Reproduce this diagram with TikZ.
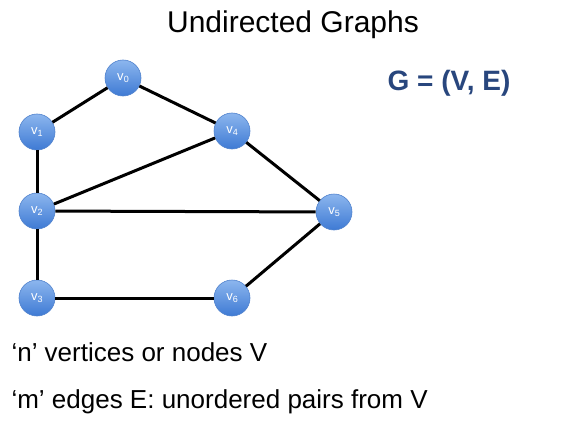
\documentclass[tikz,border=0pt]{standalone}
\usepackage{fontspec}
\setmainfont{Liberation Sans}
\usetikzlibrary{shapes,positioning}
\definecolor{vertexlight}{RGB}{140,182,238}
\definecolor{vertexdark}{RGB}{62,122,212}
\definecolor{vertexrim}{RGB}{80,130,205}
\definecolor{graphblue}{RGB}{40,70,125}
\newcommand{\vsub}[1]{v\raisebox{-2.5pt}{\fontsize{9}{9}\selectfont #1}}

\begin{document}
\begin{tikzpicture}[x=1pt, y=-1pt,
    vertex/.style={circle, draw=vertexrim, line width=0.6pt, top color=vertexlight, bottom color=vertexdark, minimum size=36pt, inner sep=0pt, text=white, font=\fontsize{13}{14}\selectfont},
    edge/.style={line width=3pt, black},
    caption/.style={anchor=west, font=\fontsize{26}{29}\selectfont}]
    \useasboundingbox (0,0) rectangle (577,433);
    
    \node[font=\fontsize{30}{34}\selectfont] (title) at (293,25) {Undirected Graphs};
    \node[text=graphblue, font=\fontsize{28}{32}\selectfont\bfseries] (gdef) at (449,83) {G = (V, E)};
    
    \node[vertex] (v0) at (123,78) {\vsub{0}};
    \node[vertex] (v1) at (37,132) {\vsub{1}};
    \node[vertex] (v4) at (232,131) {\vsub{4}};
    \node[vertex] (v2) at (37,211) {\vsub{2}};
    \node[vertex] (v5) at (334,212) {\vsub{5}};
    \node[vertex] (v3) at (37,298) {\vsub{3}};
    \node[vertex] (v6) at (232,298) {\vsub{6}};
    
    \draw[edge] (v0) -- (v1);
    \draw[edge] (v0) -- (v4);
    \draw[edge] (v1) -- (v2);
    \draw[edge] (v2) -- (v4);
    \draw[edge] (v2) -- (v5);
    \draw[edge] (v4) -- (v5);
    \draw[edge] (v2) -- (v3);
    \draw[edge] (v3) -- (v6);
    \draw[edge] (v6) -- (v5);
    
    \node[caption] (nverts) at (8,352) {`n' vertices or nodes V};
    \node[caption] (medges) at (8,402) {`m' edges E: unordered pairs from V};
\end{tikzpicture}
\end{document}
